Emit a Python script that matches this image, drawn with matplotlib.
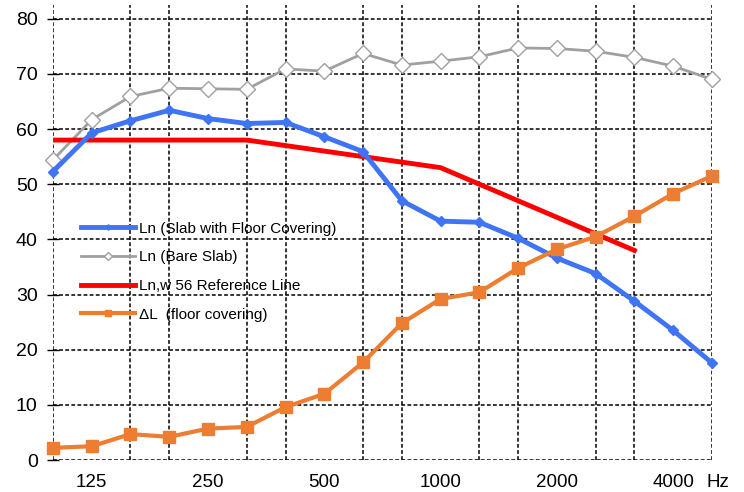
import matplotlib.pyplot as plt
import matplotlib.transforms as mtransforms
import numpy as np

plt.rcParams['font.family'] = ['Liberation Sans', 'DejaVu Sans']

# 1/3 octave bands 100 .. 5000 Hz
bands = [100, 125, 160, 200, 250, 315, 400, 500, 630, 800, 1000,
         1250, 1600, 2000, 2500, 3150, 4000, 5000]
tick_bands = [125, 250, 500, 1000, 2000, 4000]

ln_covered = [52.3, 59.3, 61.5, 63.4, 61.9, 61.0, 61.2, 58.6, 55.9, 47.0,
              43.3, 43.1, 40.2, 36.6, 33.8, 28.8, 23.5, 17.6]
ln_bare = [54.4, 61.7, 65.9, 67.4, 67.3, 67.2, 70.9, 70.5, 73.7, 71.6,
           72.3, 73.1, 74.7, 74.6, 74.1, 73.0, 71.4, 69.0]
ref_line = [58, 58, 58, 58, 58, 58, 57, 56, 55, 54, 53, 50, 47, 44, 41, 38]
delta_l = [2.2, 2.5, 4.7, 4.2, 5.7, 6.0, 9.6, 12.0, 17.7, 24.8, 29.2, 30.4,
           34.8, 38.2, 40.5, 44.2, 48.3, 51.5]

x = np.arange(len(bands))

fig = plt.figure(figsize=(7.44, 4.92), dpi=100)
ax = fig.add_axes([0.0712, 0.065, 0.8857, 0.925])

ax.plot(x, ln_covered, color='#3f74f5', lw=3.5, marker='D', ms=5,
        label='Ln (Slab with Floor Covering)', clip_on=False, zorder=4)
ax.plot(x, ln_bare, color='#a0a0a0', lw=2, marker='D', ms=8,
        mfc='white', mec='#a0a0a0', mew=1,
        label='Ln (Bare Slab)', clip_on=False, zorder=3)
ax.plot(x[:len(ref_line)], ref_line, color='#ff0000', lw=3.5,
        label='Ln,w 56 Reference Line', zorder=3)
ax.plot(x, delta_l, color='#ed7d31', lw=3, marker='s', ms=9,
        label='\u0394L  (floor covering)', clip_on=False, zorder=5)

ax.set_xlim(0, len(bands) - 1)
ax.set_ylim(0, 82.5)
ax.set_yticks(np.arange(0, 81, 10))
ax.set_xticks(x, minor=True)
ax.set_xticks([bands.index(b) for b in tick_bands])
ax.set_xticklabels([str(b) for b in tick_bands])

dash = (0, (2.5, 1.5))
ax.grid(True, which='minor', axis='x', color='black', ls=dash, lw=1.1)
ax.grid(True, which='major', axis='y', color='black', ls=dash, lw=1.1)
for s in ax.spines.values():
    s.set_visible(False)

ax.tick_params(axis='y', direction='inout', length=8, width=1, labelsize=14, pad=7)
ax.tick_params(axis='x', which='both', length=0, labelsize=13.5, pad=10)

trans = mtransforms.blended_transform_factory(ax.transData, ax.transAxes)
ax.text(17.15, -0.031, 'Hz', transform=trans, ha='center', va='top',
        fontsize=13.5)

ax.legend(loc='upper left', bbox_to_anchor=(0.022, 0.554), frameon=False,
          fontsize=11, handlelength=3.5, labelspacing=0.96, handletextpad=0.3,
          markerscale=0.55)

fig.savefig('out.png', dpi=100)
